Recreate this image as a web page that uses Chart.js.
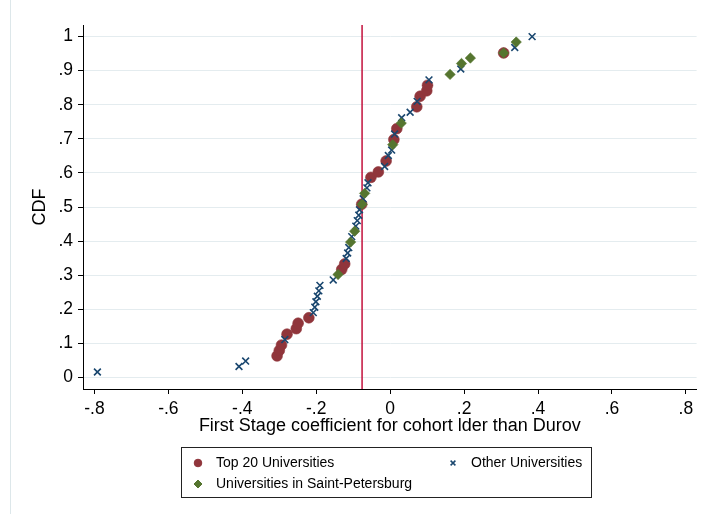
<!DOCTYPE html>
<html>
<head>
<meta charset="utf-8">
<script src="https://cdn.jsdelivr.net/npm/chart.js@4.4.0/dist/chart.umd.min.js"></script>
<style>
html, body { margin: 0; padding: 0; background: #fff; }
#wrap { width: 703px; height: 514px; }
</style>
</head>
<body>
<div id="wrap"><canvas id="cdfChart" width="703" height="514"></canvas></div>
<script>
// First stage coefficients (x) and their CDF position (y), one pair per university
const top20Coef = [-0.306, -0.300, -0.294, -0.279, -0.254, -0.249, -0.220, -0.131, -0.123, -0.077,
                   -0.052, -0.032, -0.011, 0.010, 0.018, 0.072, 0.081, 0.099, 0.101, 0.307];
const top20Cdf  = [0.063, 0.079, 0.095, 0.127, 0.143, 0.159, 0.175, 0.317, 0.333, 0.508,
                   0.587, 0.603, 0.635, 0.698, 0.730, 0.794, 0.825, 0.841, 0.857, 0.952];

const otherCoef = [-0.792, -0.409, -0.391, -0.285, -0.208, -0.204, -0.201, -0.197, -0.193, -0.190,
                   -0.154, -0.119, -0.115, -0.112, -0.104, -0.093, -0.089, -0.085, -0.083, -0.073,
                   -0.063, -0.060, -0.015, -0.005, 0.004, 0.012, 0.031, 0.054, 0.073, 0.105,
                   0.191, 0.337, 0.384];
const otherCdf  = [0.016, 0.032, 0.048, 0.111, 0.190, 0.206, 0.222, 0.238, 0.254, 0.270,
                   0.286, 0.349, 0.365, 0.381, 0.413, 0.444, 0.460, 0.476, 0.492, 0.524,
                   0.556, 0.571, 0.619, 0.651, 0.667, 0.714, 0.762, 0.778, 0.810, 0.873,
                   0.905, 0.968, 1.000];

const spbCoef = [-0.141, -0.107, -0.096, -0.076, -0.069, 0.007, 0.030, 0.162, 0.193, 0.217, 0.307, 0.341];
const spbCdf  = [0.302, 0.397, 0.429, 0.508, 0.540, 0.683, 0.746, 0.889, 0.921, 0.937, 0.952, 0.984];

// vertical reference line (median coefficient)
const medianCoef = -0.076;

const xTickValues = [-0.8, -0.6, -0.4, -0.2, 0, 0.2, 0.4, 0.6, 0.8];
const xTickLabels = ['-.8', '-.6', '-.4', '-.2', '0', '.2', '.4', '.6', '.8'];
const yTickValues = [0, 0.1, 0.2, 0.3, 0.4, 0.5, 0.6, 0.7, 0.8, 0.9, 1];
const yTickLabels = ['0', '.1', '.2', '.3', '.4', '.5', '.6', '.7', '.8', '.9', '1'];

const xMin = -0.831, xMax = 0.829;
const yMin = -0.034, yMax = 1.034;

const RED = 'rgb(144,53,59)';
const GREEN = 'rgb(85,117,47)';
const NAVY = 'rgb(26,71,111)';
const LINE_RED = 'rgb(195,16,60)';

function toPoints(xs, ys) {
    return xs.map((x, i) => ({ x: x, y: ys[i] }));
}

Chart.defaults.font.family = "'Liberation Sans', Arial, Helvetica, sans-serif";
Chart.defaults.color = '#000';

const legendItems = [
    { text: 'Top 20 Universities', style: 'circle', radius: 3.8, color: RED, x: 198, y: 463 },
    { text: 'Other Universities', style: 'crossRot', radius: 3.4, color: NAVY, x: 453, y: 463 },
    { text: 'Universities in Saint-Petersburg', style: 'rectRot', radius: 4, color: GREEN, x: 198, y: 484 }
];

// white page with the faint outer graph border
const backgroundPlugin = {
    id: 'pageBg',
    beforeDraw(chart) {
        const ctx = chart.ctx;
        ctx.save();
        ctx.fillStyle = '#fff';
        ctx.fillRect(0, 0, chart.width, chart.height);
        ctx.strokeStyle = '#dde7ea';
        ctx.lineWidth = 1;
        ctx.beginPath();
        ctx.moveTo(10.5, 0);
        ctx.lineTo(10.5, chart.height);
        ctx.stroke();
        ctx.restore();
    }
};

// boxed two-column legend below the axis title
const legendPlugin = {
    id: 'boxLegend',
    afterDraw(chart) {
        const ctx = chart.ctx;
        ctx.save();
        ctx.strokeStyle = '#222';
        ctx.lineWidth = 1;
        ctx.strokeRect(181.5, 447.5, 410, 50);
        ctx.font = "14px 'Liberation Sans', Arial, sans-serif";
        ctx.textBaseline = 'middle';
        ctx.textAlign = 'left';
        legendItems.forEach(item => {
            ctx.fillStyle = item.color;
            ctx.strokeStyle = item.color;
            ctx.lineWidth = item.style === 'crossRot' ? 1.5 : 1;
            Chart.helpers.drawPoint(ctx, { pointStyle: item.style, radius: item.radius, borderWidth: ctx.lineWidth, rotation: 0 }, item.x, item.y);
            ctx.fillStyle = '#000';
            ctx.fillText(item.text, item.x + 18, item.y + 0.5);
        });
        ctx.restore();
    }
};

new Chart(document.getElementById('cdfChart').getContext('2d'), {
    type: 'scatter',
    data: {
        datasets: [
            {
                type: 'line',
                label: 'median',
                data: [{ x: medianCoef, y: yMin }, { x: medianCoef, y: yMax }],
                borderColor: LINE_RED,
                borderWidth: 1.5,
                pointRadius: 0,
                fill: false,
                order: 9
            },
            {
                label: 'Top 20 Universities',
                data: toPoints(top20Coef, top20Cdf),
                pointStyle: 'circle',
                pointRadius: 5.4,
                backgroundColor: RED,
                borderColor: RED,
                borderWidth: 0.6,
                order: 3
            },
            {
                label: 'Other Universities',
                data: toPoints(otherCoef, otherCdf),
                pointStyle: 'crossRot',
                pointRadius: 4.8,
                borderColor: NAVY,
                backgroundColor: NAVY,
                borderWidth: 1.6,
                order: 2
            },
            {
                label: 'Universities in Saint-Petersburg',
                data: toPoints(spbCoef, spbCdf),
                pointStyle: 'rectRot',
                pointRadius: 5.2,
                backgroundColor: GREEN,
                borderColor: GREEN,
                borderWidth: 0.6,
                order: 1
            }
        ]
    },
    options: {
        responsive: false,
        animation: false,
        events: [],
        layout: { padding: { left: 0, right: 4, top: 25, bottom: 77 } },
        plugins: {
            legend: { display: false },
            tooltip: { enabled: false }
        },
        scales: {
            x: {
                type: 'linear',
                min: xMin,
                max: xMax,
                afterBuildTicks: s => { s.ticks = xTickValues.map(v => ({ value: v })); },
                afterFit: s => { s.height = 48; },
                border: { color: '#000', width: 1 },
                grid: { drawOnChartArea: false, drawTicks: true, tickLength: 5, tickColor: '#000' },
                ticks: {
                    padding: 5,
                    font: { size: 17.5 },
                    color: '#000',
                    maxRotation: 0,
                    autoSkip: false,
                    callback: (v, i) => xTickLabels[i]
                },
                title: {
                    display: true,
                    text: 'First Stage coefficient for cohort lder than Durov',
                    font: { size: 18 },
                    color: '#000',
                    padding: { top: 0, bottom: 0 }
                }
            },
            y: {
                type: 'linear',
                min: yMin,
                max: yMax,
                afterBuildTicks: s => { s.ticks = yTickValues.map(v => ({ value: v })); },
                afterFit: s => { s.width = 83; },
                border: { color: '#000', width: 1 },
                grid: { color: '#e4ecef', lineWidth: 1, drawTicks: true, tickLength: 5, tickColor: '#000' },
                ticks: {
                    padding: 5,
                    font: { size: 17.5 },
                    color: '#000',
                    autoSkip: false,
                    callback: (v, i) => yTickLabels[i]
                },
                title: {
                    display: true,
                    text: 'CDF',
                    font: { size: 18 },
                    color: '#000',
                    padding: { top: 29, bottom: 0 }
                }
            }
        }
    },
    plugins: [backgroundPlugin, legendPlugin]
});
</script>
</body>
</html>
